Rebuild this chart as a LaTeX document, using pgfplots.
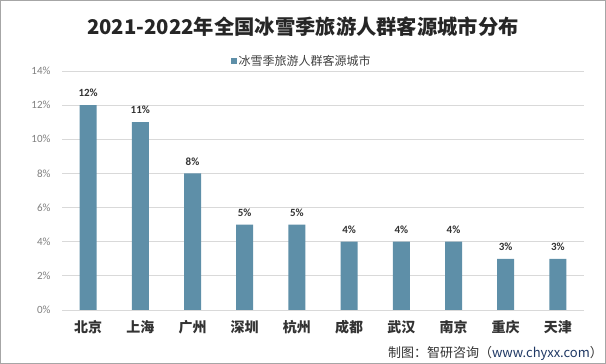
\documentclass[border=0pt]{standalone}
\usepackage{pgfplots}
\pgfplotsset{compat=1.18}
\usepackage{fontspec}
\setmainfont{Carlito}
\newfontfamily\cjk{Noto Sans CJK SC}
\definecolor{barc}{HTML}{5E8FA8}
\definecolor{gridc}{HTML}{D9D9D9}
\definecolor{tickc}{HTML}{7F7F7F}
\definecolor{titlec}{HTML}{262626}
\definecolor{linkc}{HTML}{1F3864}
\begin{document}
\begin{tikzpicture}[x=1pt,y=1pt]
\draw[draw=gray!70, line width=1pt] (0.5,0.5) rectangle (605.5,363.5);
\node[text=titlec] at (303,337) {\cjk\bfseries\fontsize{20.3}{20.3}\selectfont 2021-2022年全国冰雪季旅游人群客源城市分布};
\node[anchor=east, inner sep=0pt, text=black!80] at (603,11) {\cjk\fontsize{13}{13}\selectfont 制图：智研咨询（\textcolor{linkc}{www.chyxx.com}）};
\begin{axis}[
  at={(62pt,54pt)}, anchor=south west,
  scale only axis, width=522pt, height=239pt,
  xmin=-0.5, xmax=9.5, ymin=0, ymax=14,
  ybar, bar width=17pt,
  ytick={0,2,...,14},
  /pgf/number format/assume math mode=true,
  yticklabel={\pgfmathprintnumber{\tick}\%},
  yticklabel style={font=\fontsize{11}{11}\selectfont, text=tickc, xshift=-8pt},
  xtick={0,...,9},
  xticklabels={北京,上海,广州,深圳,杭州,成都,武汉,南京,重庆,天津},
  xticklabel style={font=\cjk\bfseries\fontsize{14}{14}\selectfont, text=black!80, yshift=-7pt},
  major tick length=0pt,
  ymajorgrids, grid style={draw=gridc, line width=0.8pt},
  axis x line*=bottom, axis y line*=left,
  x axis line style={draw=gridc, line width=0.8pt, -},
  y axis line style={draw=none},
  nodes near coords={\pgfmathprintnumber{\pgfplotspointmeta}\%},
  nodes near coords style={font=\bfseries\fontsize{11}{11}\selectfont, text=black!80, inner sep=0pt, anchor=south, yshift=8pt},
  legend style={at={(0.459,1.042)}, anchor=center, draw=none, fill=none,
    font=\cjk\fontsize{12}{12}\selectfont, text=black!75, inner sep=0pt,
    /tikz/every even column/.append style={column sep=2pt}},
  legend image code/.code={\fill[barc] (0pt,-3pt) rectangle (6pt,3pt);},
]
\addplot[fill=barc, draw=none] coordinates {
(0,12) (1,11) (2,8) (3,5) (4,5) (5,4) (6,4) (7,4) (8,3) (9,3)};
\addlegendentry{冰雪季旅游人群客源城市}
\end{axis}
\end{tikzpicture}
\end{document}
